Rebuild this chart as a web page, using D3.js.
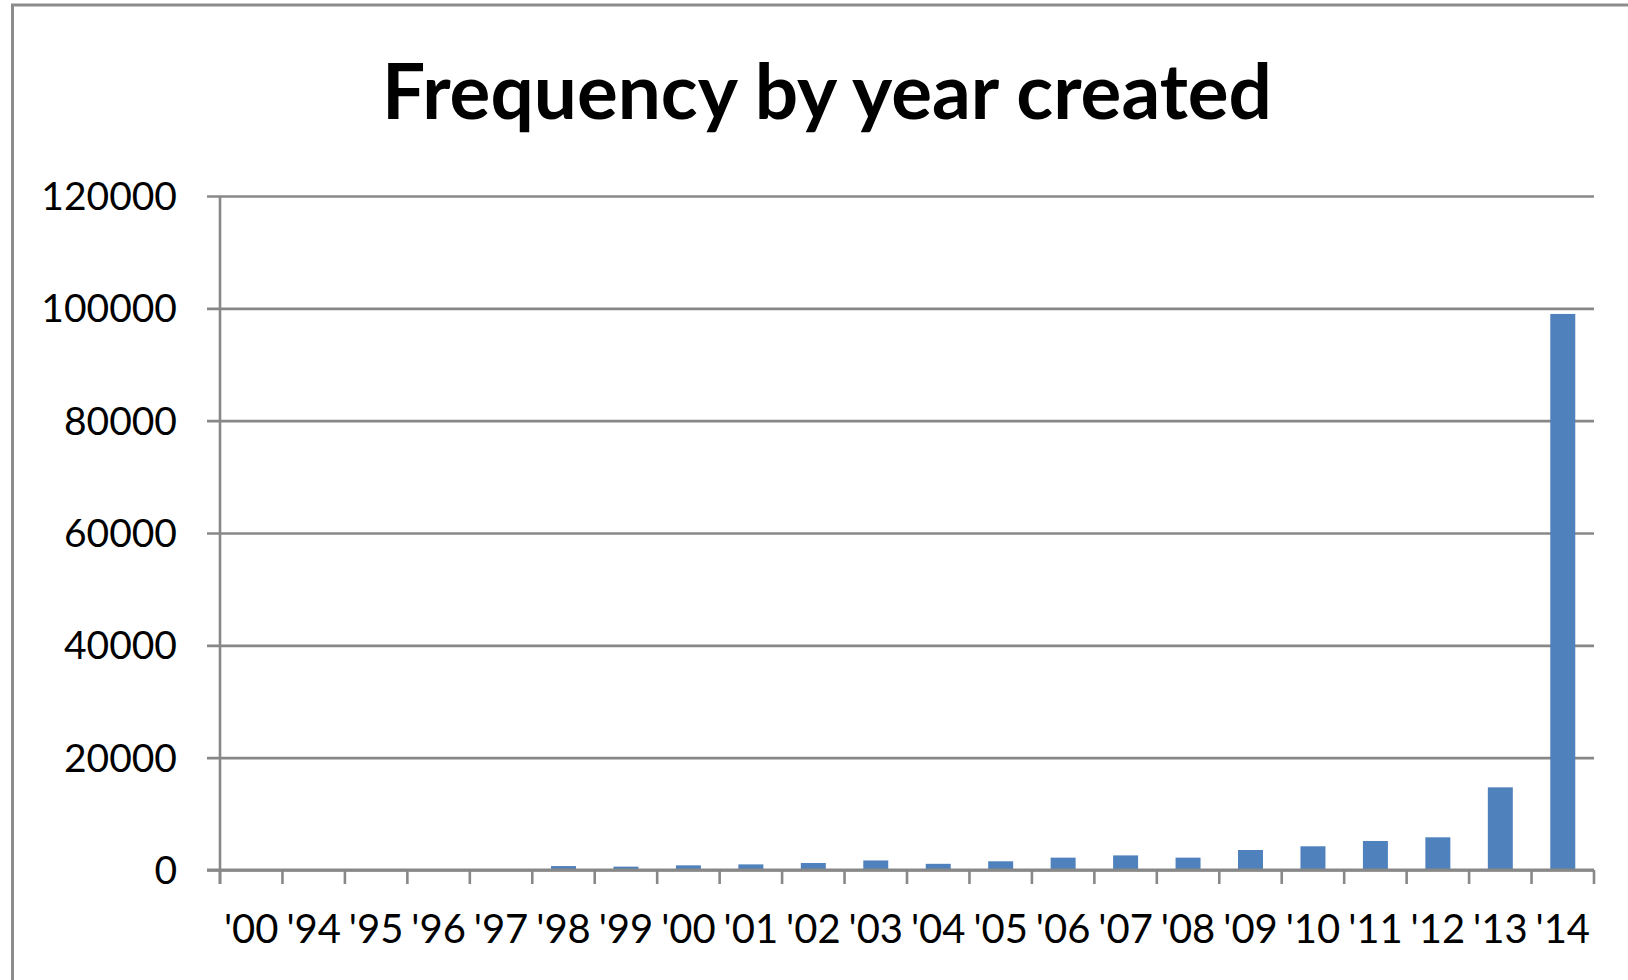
<!DOCTYPE html>
<html>
<head>
<meta charset="utf-8">
<script src="https://cdn.jsdelivr.net/npm/d3@7"></script>
<style>
  html, body { margin: 0; padding: 0; background: #ffffff; }
  svg { display: block; }
  text { font-family: Lato, "Open Sans", "Noto Sans", sans-serif; fill: #000; }
</style>
</head>
<body>
<svg id="chart" width="1628" height="980"></svg>
<script>
// Year-created categories and record counts
const categories = ["'00", "'94", "'95", "'96", "'97", "'98", "'99", "'00", "'01", "'02", "'03",
                    "'04", "'05", "'06", "'07", "'08", "'09", "'10", "'11", "'12", "'13", "'14"];
const counts = [5, 3, 6, 12, 40, 700, 600, 830, 1000, 1250, 1700,
                1100, 1550, 2200, 2600, 2200, 3560, 4220, 5160, 5820, 14720, 99000];
const yTicks = [0, 20000, 40000, 60000, 80000, 100000, 120000];
const titleText = "Frequency by year created";

const svg = d3.select("#chart");
const W = 1628, H = 980;
const plot = { left: 220, right: 1594, top: 196, bottom: 870 };

const gridColor = "#888888";
const barColor = "#4f81bd";

// Outer chart frame
svg.append("rect")
  .attr("x", 12.5).attr("y", 5)
  .attr("width", W + 40).attr("height", H + 40)
  .attr("fill", "#ffffff")
  .attr("stroke", "#8c8c8c")
  .attr("stroke-width", 3);

// Title
const title = svg.append("text")
  .attr("x", 827).attr("y", 119)
  .attr("text-anchor", "middle")
  .style("font-weight", "bold")
  .style("font-size", "76px")
  .text(titleText);
title.attr("textLength", 890).attr("lengthAdjust", "spacingAndGlyphs");

// Scales
const x = d3.scaleBand()
  .domain(d3.range(categories.length))
  .range([plot.left, plot.right])
  .paddingInner(0.6)
  .paddingOuter(0.3);

const y = d3.scaleLinear()
  .domain([0, 120000])
  .range([plot.bottom, plot.top]);

// Horizontal gridlines with short tick stubs on the left
const yAxis = d3.axisLeft(y)
  .tickValues(yTicks)
  .tickSize(-(plot.right - plot.left))
  .tickFormat("")
  .tickSizeOuter(0);
const gy = svg.append("g")
  .attr("transform", `translate(${plot.left},0)`)
  .call(yAxis);
gy.select(".domain").remove();
gy.selectAll(".tick line")
  .attr("x1", -13)
  .attr("stroke", gridColor)
  .attr("stroke-width", 2.6);

// Y tick labels
svg.append("g")
  .selectAll("text")
  .data(yTicks)
  .join("text")
  .attr("x", 177)
  .attr("y", d => y(d))
  .attr("dy", "0.36em")
  .attr("text-anchor", "end")
  .style("font-size", "39px")
  .text(d => d3.format("d")(d));

// Bars
svg.append("g")
  .selectAll("rect")
  .data(counts)
  .join("rect")
  .attr("x", (d, i) => x(i))
  .attr("width", x.bandwidth())
  .attr("y", d => y(d))
  .attr("height", d => y(0) - y(d))
  .attr("fill", barColor);

// Vertical axis line
svg.append("line")
  .attr("x1", plot.left).attr("x2", plot.left)
  .attr("y1", plot.top).attr("y2", plot.bottom + 14)
  .attr("stroke", gridColor).attr("stroke-width", 2.6);

// Category axis: baseline and boundary ticks
const step = x.step();
const bounds = d3.range(categories.length + 1).map(i => plot.left + i * step);
svg.append("line")
  .attr("x1", plot.left - 13).attr("x2", plot.right)
  .attr("y1", plot.bottom).attr("y2", plot.bottom)
  .attr("stroke", gridColor).attr("stroke-width", 3);
svg.append("g")
  .selectAll("line")
  .data(bounds)
  .join("line")
  .attr("x1", d => d).attr("x2", d => d)
  .attr("y1", plot.bottom).attr("y2", plot.bottom + 14)
  .attr("stroke", gridColor).attr("stroke-width", 2.6);

// Category labels
svg.append("g")
  .selectAll("text")
  .data(categories)
  .join("text")
  .attr("x", (d, i) => x(i) + x.bandwidth() / 2)
  .attr("y", 943)
  .attr("text-anchor", "middle")
  .style("font-size", "40px")
  .text(d => d);
</script>
</body>
</html>
